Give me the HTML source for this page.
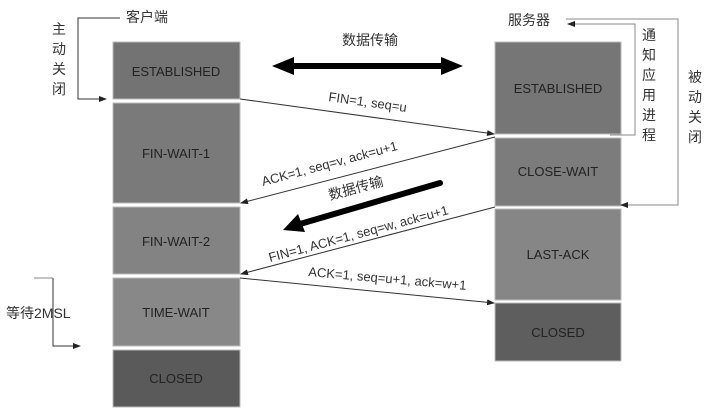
<!DOCTYPE html><html><head><meta charset="utf-8"><style>
body{margin:0;width:714px;height:409px;background:#fff;overflow:hidden}
text{font-family:"Liberation Sans","Noto Sans CJK SC",sans-serif}
.b{font-family:"Liberation Mono","Noto Sans CJK SC",monospace;font-size:13px;fill:#222}
.l{font-family:"Liberation Serif",serif;font-size:13px;fill:#333}
.c{font-size:14px;fill:#333}
</style></head><body>
<svg width="714" height="409" xmlns="http://www.w3.org/2000/svg">
<defs><marker id="a" markerWidth="8" markerHeight="6" refX="7" refY="3" orient="auto"><path d="M0,0L8,3L0,6z" fill="#222"/></marker></defs>
<g stroke="#bbb" stroke-width="1">
<rect x="113" y="42" width="127" height="57" fill="#737373"/>
<rect x="113" y="103" width="127" height="100" fill="#7a7a7a"/>
<rect x="113" y="207" width="127" height="67" fill="#838383"/>
<rect x="113" y="278" width="127" height="68" fill="#888"/>
<rect x="113" y="350" width="127" height="57" fill="#5a5a5a"/>
<rect x="495" y="42" width="126" height="92" fill="#767676"/>
<rect x="495" y="138" width="126" height="68" fill="#7c7c7c"/>
<rect x="495" y="209" width="126" height="91" fill="#868686"/>
<rect x="495" y="303" width="126" height="58" fill="#5e5e5e"/>
</g>
<g class="b" text-anchor="middle">
<text x="176" y="76">ESTABLISHED</text><text x="176" y="158">FIN-WAIT-1</text>
<text x="176" y="246">FIN-WAIT-2</text><text x="176" y="317">TIME-WAIT</text>
<text x="176" y="383">CLOSED</text>
<text x="558" y="93">ESTABLISHED</text><text x="558" y="176">CLOSE-WAIT</text>
<text x="558" y="259">LAST-ACK</text><text x="558" y="337">CLOSED</text>
</g>
<g stroke="#333" stroke-width="1" fill="none" marker-end="url(#a)">
<line x1="240" y1="99" x2="494" y2="134"/>
<line x1="495" y1="137" x2="241" y2="203"/>
<line x1="495" y1="207" x2="241" y2="274"/>
<line x1="240" y1="278" x2="494" y2="303"/>
<polyline points="120,18 78,18 78,99 106,99"/>
<polyline points="53,278 53,346 80,346"/>
</g>
<g stroke="#888" fill="none" stroke-width="1">
<polyline points="610,135 635,135 635,24 568,24" marker-end="url(#a)"/>
<polyline points="566,19 678,19 678,205 621,205" marker-end="url(#a)"/>
<line x1="34" y1="278" x2="53" y2="278"/>
</g>
<line x1="290" y1="66" x2="445" y2="66" stroke="#000" stroke-width="6"/>
<path d="M272,66L294,57L294,75z M463,66L441,57L441,75z" fill="#000"/>
<line x1="440" y1="183" x2="300" y2="224" stroke="#000" stroke-width="6" stroke-linecap="round"/>
<path d="M283,230L298,214L305,232z" fill="#000"/>
<g class="c"><text x="126" y="22">客户端</text><text x="508" y="25">服务器</text>
<text x="342" y="45">数据传输</text><text x="6" y="318">等待2MSL</text></g>
<g class="c" text-anchor="middle">
<text x="59" y="34">主</text><text x="59" y="54">动</text><text x="59" y="74">关</text><text x="59" y="94">闭</text>
<text x="649" y="40">通</text><text x="649" y="60">知</text><text x="649" y="80">应</text><text x="649" y="100">用</text><text x="649" y="120">进</text><text x="649" y="140">程</text>
<text x="695" y="82">被</text><text x="695" y="102">动</text><text x="695" y="122">关</text><text x="695" y="142">闭</text>
</g>
<g class="l">
<text transform="translate(328,101) rotate(8)">FIN=1, seq=u</text>
<text transform="translate(263,186) rotate(-15)">ACK=1, seq=v, ack=u+1</text>
<text transform="translate(330,200) rotate(-15)" class="c">数据传输</text>
<text transform="translate(270,262) rotate(-15)">FIN=1, ACK=1, seq=w, ack=u+1</text>
<text transform="translate(308,276) rotate(5)">ACK=1, seq=u+1, ack=w+1</text>
</g>
</svg></body></html>
